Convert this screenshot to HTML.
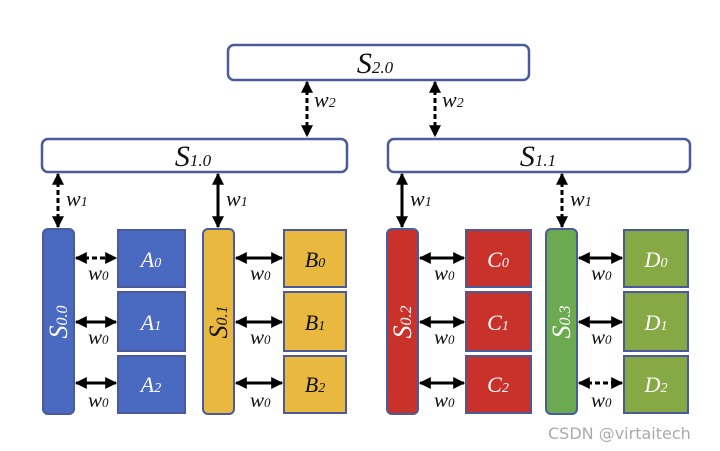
<!DOCTYPE html>
<html><head><meta charset="utf-8"><style>
html,body{margin:0;padding:0;background:#fff;}
svg{display:block;}
text{font-family:"Liberation Serif",serif;font-style:italic;}
</style></head><body>
<svg width="720" height="451" viewBox="0 0 720 451" xmlns="http://www.w3.org/2000/svg">
<defs>
<marker id="h" viewBox="0 0 10 10" refX="9" refY="5" markerWidth="4" markerHeight="4" orient="auto-start-reverse" markerUnits="strokeWidth">
<path d="M0,0 L10,5 L0,10 z" fill="#000"/></marker>
</defs>
<g fill="#fff" stroke="#4a5a9a" stroke-width="2.5">
<rect x="228" y="45" width="301" height="35" rx="6"/>
<rect x="42" y="139" width="305" height="33" rx="6"/>
<rect x="388" y="139" width="302" height="33" rx="6"/>
</g>
<g font-size="30" fill="#111" text-anchor="middle">
<text x="375" y="73">S<tspan font-size="17">2.0</tspan></text>
<text x="193" y="166">S<tspan font-size="17">1.0</tspan></text>
<text x="538" y="166">S<tspan font-size="17">1.1</tspan></text>
</g>
<!-- vertical arrows -->
<g stroke="#000" stroke-width="3" marker-start="url(#h)" marker-end="url(#h)">
<line x1="307" y1="82" x2="307" y2="136" stroke-dasharray="5,3"/>
<line x1="435" y1="82" x2="435" y2="136" stroke-dasharray="5,3"/>
<line x1="58" y1="174" x2="58" y2="227" stroke-dasharray="5,3"/>
<line x1="218" y1="174" x2="218" y2="227"/>
<line x1="402" y1="174" x2="402" y2="227"/>
<line x1="562" y1="174" x2="562" y2="227" stroke-dasharray="5,3"/>
</g>
<g font-size="22" fill="#111">
<text x="314" y="107">w<tspan font-size="14">2</tspan></text>
<text x="442" y="107">w<tspan font-size="14">2</tspan></text>
<text x="66" y="206">w<tspan font-size="14">1</tspan></text>
<text x="226" y="206">w<tspan font-size="14">1</tspan></text>
<text x="410" y="206">w<tspan font-size="14">1</tspan></text>
<text x="570" y="206">w<tspan font-size="14">1</tspan></text>
</g>
<!-- columns -->
<g stroke="#4a5a9a" stroke-width="2">
<rect x="43" y="229" width="31" height="185" rx="5" fill="#4a69c0"/>
<rect x="203" y="229" width="31" height="185" rx="5" fill="#e9b93f"/>
<rect x="387" y="229" width="31" height="185" rx="5" fill="#c8322a"/>
<rect x="546" y="229" width="31" height="185" rx="5" fill="#6caa52"/>
<g fill="#4a69c0"><rect x="118" y="230" width="67" height="57"/><rect x="118" y="292" width="67" height="59"/><rect x="118" y="356" width="67" height="57"/></g>
<g fill="#e9b93f"><rect x="284" y="230" width="62" height="57"/><rect x="284" y="292" width="62" height="59"/><rect x="284" y="356" width="62" height="57"/></g>
<g fill="#c8322a"><rect x="466" y="230" width="65" height="57"/><rect x="466" y="292" width="65" height="59"/><rect x="466" y="356" width="65" height="57"/></g>
<g fill="#86a845"><rect x="624" y="230" width="64" height="57"/><rect x="624" y="292" width="64" height="59"/><rect x="624" y="356" width="64" height="57"/></g>
</g>
<g font-size="26" text-anchor="middle">
<text transform="translate(67,322) rotate(-90)" fill="#fff">S<tspan font-size="16">0.0</tspan></text>
<text transform="translate(227,322) rotate(-90)" fill="#111">S<tspan font-size="16">0.1</tspan></text>
<text transform="translate(411,322) rotate(-90)" fill="#fff">S<tspan font-size="16">0.2</tspan></text>
<text transform="translate(570,322) rotate(-90)" fill="#fff">S<tspan font-size="16">0.3</tspan></text>
</g>
<g font-size="22" text-anchor="middle">
<g fill="#fff"><text x="151" y="267">A<tspan font-size="14">0</tspan></text><text x="151" y="330">A<tspan font-size="14">1</tspan></text><text x="151" y="392">A<tspan font-size="14">2</tspan></text></g>
<g fill="#111"><text x="315" y="267">B<tspan font-size="14">0</tspan></text><text x="315" y="330">B<tspan font-size="14">1</tspan></text><text x="315" y="392">B<tspan font-size="14">2</tspan></text></g>
<g fill="#fff"><text x="498" y="267">C<tspan font-size="14">0</tspan></text><text x="498" y="330">C<tspan font-size="14">1</tspan></text><text x="498" y="392">C<tspan font-size="14">2</tspan></text></g>
<g fill="#fff"><text x="656" y="267">D<tspan font-size="14">0</tspan></text><text x="656" y="330">D<tspan font-size="14">1</tspan></text><text x="656" y="392">D<tspan font-size="14">2</tspan></text></g>
</g>
<!-- horizontal arrows -->
<g stroke="#000" stroke-width="3" marker-start="url(#h)" marker-end="url(#h)">
<line x1="76" y1="258" x2="116" y2="258" stroke-dasharray="5,3"/>
<line x1="76" y1="322" x2="116" y2="322"/>
<line x1="76" y1="383" x2="116" y2="383"/>
<line x1="236" y1="258" x2="282" y2="258"/>
<line x1="236" y1="322" x2="282" y2="322"/>
<line x1="236" y1="383" x2="282" y2="383"/>
<line x1="420" y1="258" x2="464" y2="258"/>
<line x1="420" y1="322" x2="464" y2="322"/>
<line x1="420" y1="383" x2="464" y2="383"/>
<line x1="579" y1="258" x2="622" y2="258"/>
<line x1="579" y1="322" x2="622" y2="322"/>
<line x1="579" y1="383" x2="622" y2="383" stroke-dasharray="5,3"/>
</g>
<g font-size="21" fill="#111">
<text x="88" y="280">w<tspan font-size="13">0</tspan></text><text x="88" y="344">w<tspan font-size="13">0</tspan></text><text x="88" y="407">w<tspan font-size="13">0</tspan></text>
<text x="250" y="280">w<tspan font-size="13">0</tspan></text><text x="250" y="344">w<tspan font-size="13">0</tspan></text><text x="250" y="407">w<tspan font-size="13">0</tspan></text>
<text x="434" y="280">w<tspan font-size="13">0</tspan></text><text x="434" y="344">w<tspan font-size="13">0</tspan></text><text x="434" y="407">w<tspan font-size="13">0</tspan></text>
<text x="591" y="280">w<tspan font-size="13">0</tspan></text><text x="591" y="344">w<tspan font-size="13">0</tspan></text><text x="591" y="407">w<tspan font-size="13">0</tspan></text>
</g>
<text x="548" y="439" font-size="16" fill="#aaa" style="font-family:'DejaVu Sans','Liberation Sans',sans-serif;font-style:normal">CSDN @virtaitech</text>
</svg>
</body></html>
